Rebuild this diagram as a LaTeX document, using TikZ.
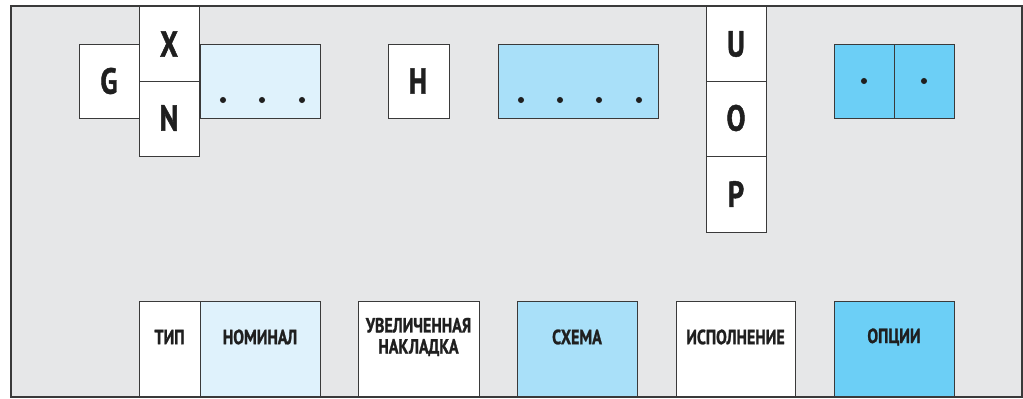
\documentclass[tikz,border=0pt]{standalone}
\usepackage{fontspec}
\setmainfont[FakeStretch=0.78, BoldFont={PT Sans Bold}, BoldFeatures={FakeBold=1.2}]{PT Sans}
\definecolor{panelgray}{HTML}{E6E7E8}
\definecolor{paleblue}{HTML}{DFF2FC}
\definecolor{midblue}{HTML}{A9E0F9}
\definecolor{deepblue}{HTML}{6CCFF6}
\definecolor{edgegray}{HTML}{3A3A3A}
\tikzset{
	cell/.style={draw=edgegray, line width=0.8pt, fill=white},
	letter/.style={font=\fontsize{31}{33}\selectfont\bfseries, text=black!88},
	caption/.style={font=\fontsize{17.5}{18}\selectfont\bfseries, text=black!88, align=center},
	dot/.style={fill=black!88}
}
\begin{document}
\begin{tikzpicture}[x=0.03cm, y=-0.03cm]
		\useasboundingbox (0, 0) rectangle (1023, 399);
		\draw[draw=edgegray, line width=1.2pt, fill=panelgray] (11, 6) rectangle (1022, 397);
		\draw[cell] (79, 44) rectangle (139, 118);
		\node[letter] (g) at (109, 81) {G};
		\draw[cell] (139, 6) rectangle (199, 81);
		\node[letter] (x) at (169, 44) {X};
		\draw[cell] (139, 81) rectangle (199, 156);
		\node[letter] (n) at (169, 118) {N};
		\draw[cell, fill=paleblue] (200, 44) rectangle (320, 118);
		\fill[dot] (223, 100) circle (2.6pt);
		\fill[dot] (262, 100) circle (2.6pt);
		\fill[dot] (302, 100) circle (2.6pt);
		\draw[cell] (388, 44) rectangle (449, 118);
		\node[letter] (h) at (418, 81) {H};
		\draw[cell, fill=midblue] (498, 44) rectangle (658, 118);
		\fill[dot] (521, 100) circle (2.6pt);
		\fill[dot] (560, 100) circle (2.6pt);
		\fill[dot] (599, 100) circle (2.6pt);
		\fill[dot] (639, 100) circle (2.6pt);
		\draw[cell] (706, 6) rectangle (766, 81);
		\node[letter] (u) at (736, 44) {U};
		\draw[cell] (706, 81) rectangle (766, 156);
		\node[letter] (o) at (736, 118) {O};
		\draw[cell] (706, 156) rectangle (766, 232);
		\node[letter] (p) at (736, 194) {P};
		\draw[cell, fill=deepblue] (834, 44) rectangle (894, 118);
		\draw[cell, fill=deepblue] (894, 44) rectangle (954, 118);
		\fill[dot] (864, 81) circle (2.6pt);
		\fill[dot] (924, 81) circle (2.6pt);
		\draw[cell] (139, 301) rectangle (200, 397);
		\node[caption] (tip) at (169.5, 337) {ТИП};
		\draw[cell, fill=paleblue] (200, 301) rectangle (320, 397);
		\node[caption] (nominal) at (260, 337) {НОМИНАЛ};
		\draw[cell] (358, 301) rectangle (479, 397);
		\node[caption] (overlay) at (418.5, 337) {УВЕЛИЧЕННАЯ\\НАКЛАДКА};
		\draw[cell, fill=midblue] (517, 301) rectangle (637, 397);
		\node[caption] (scheme) at (577, 337) {СХЕМА};
		\draw[cell] (676, 301) rectangle (795, 397);
		\node[caption] (design) at (735.5, 337) {ИСПОЛНЕНИЕ};
		\draw[cell, fill=deepblue] (834, 301) rectangle (954, 397);
		\node[caption] (options) at (894, 337) {ОПЦИИ};
		\draw[draw=edgegray, line width=1.2pt] (11, 397) -- (1022, 397);
		\end{tikzpicture}
\end{document}
